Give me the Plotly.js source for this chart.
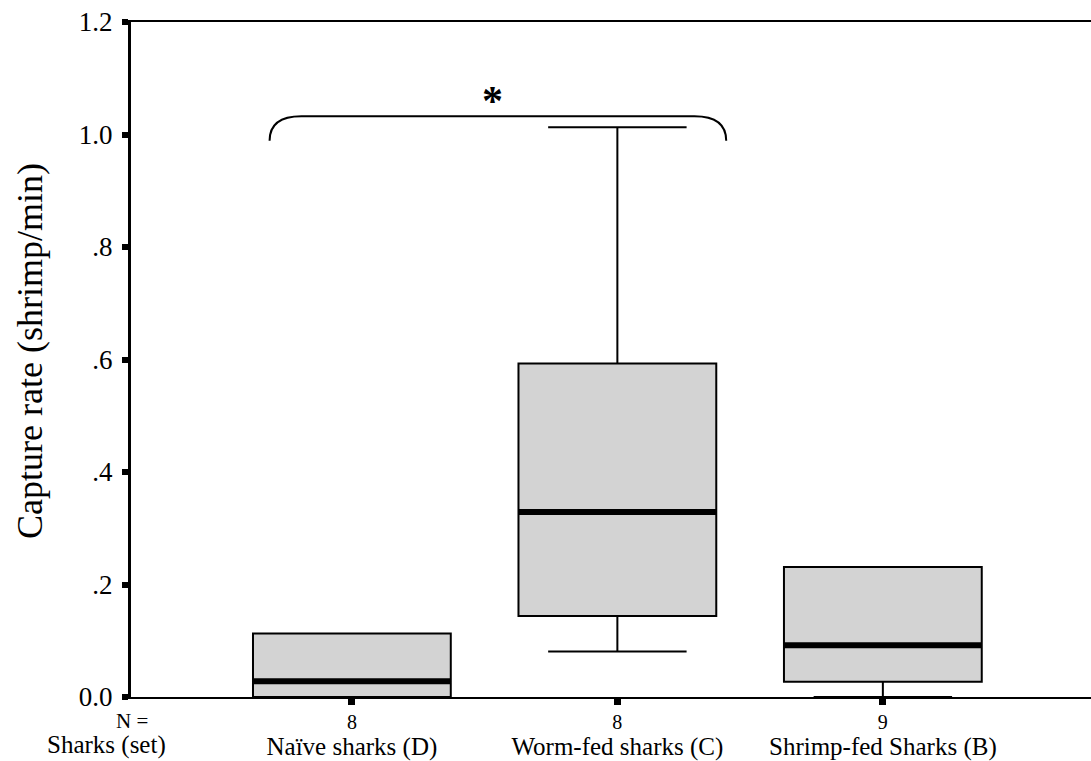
<!DOCTYPE html>
<html>
<head>
<meta charset="utf-8">
<script src="https://cdn.plot.ly/plotly-3.0.1.min.js"></script>
<style>html,body{margin:0;padding:0;background:#fff;}#chart{width:1091px;height:761px;}</style>
</head>
<body>
<div id="chart"></div>
<script>
// ---- data ----
const groups = ['Naïve sharks (D)', 'Worm-fed sharks (C)', 'Shrimp-fed Sharks (B)'];
const nCounts = [8, 8, 9];
const minVals = [0.0, 0.081, 0.0];
const q1Vals = [0.0, 0.144, 0.027];
const medianVals = [0.028, 0.329, 0.092];
const q3Vals = [0.113, 0.593, 0.231];
const maxVals = [0.113, 1.013, 0.231];
const yTickVals = [0, 0.2, 0.4, 0.6, 0.8, 1.0, 1.2];
const yTickText = ['0.0', '.2', '.4', '.6', '.8', '1.0', '1.2'];

const FONT = 'Liberation Serif';
const positions = groups.map((g, i) => i);
const boxWidth = 0.745;

const boxTrace = {
  type: 'box',
  x: positions,
  q1: q1Vals,
  median: medianVals,
  q3: q3Vals,
  lowerfence: minVals,
  upperfence: maxVals,
  width: boxWidth,
  whiskerwidth: 0.7,
  fillcolor: '#d3d3d3',
  line: {color: '#000', width: 2},
  boxpoints: false,
  hoverinfo: 'skip',
  showlegend: false
};

const medX = [], medY = [];
positions.forEach((p, i) => {
  medX.push(p - boxWidth / 2, p + boxWidth / 2, null);
  medY.push(medianVals[i], medianVals[i], null);
});
const medianTrace = {
  type: 'scatter', mode: 'lines', x: medX, y: medY,
  line: {color: '#000', width: 6},
  hoverinfo: 'skip', showlegend: false
};

const xTickText = groups.map((g, i) => nCounts[i] + '<br><span style="font-size:25px">' + g + '</span>');

// significance bracket between group 0 and group 1
const bx0 = positions[0] - 0.31, bx1 = positions[1] + 0.41;
const byBot = 0.989, byTop = 1.0325, dx = 0.12;
const bracketPath = `M ${bx0},${byBot} Q ${bx0},${byTop} ${bx0 + dx},${byTop} L ${bx1 - dx},${byTop} Q ${bx1},${byTop} ${bx1},${byBot}`;

const layout = {
  width: 1091, height: 761,
  margin: {l: 131, r: 0, t: 22, b: 64, pad: 0},
  paper_bgcolor: '#fff', plot_bgcolor: '#fff',
  font: {family: FONT, color: '#000'},
  showlegend: false,
  xaxis: {
    range: [-0.832, 2.784],
    tickvals: positions,
    ticktext: xTickText,
    tickfont: {family: FONT, size: 20, color: '#000'},
    ticks: 'outside', ticklen: 6, tickwidth: 7, tickcolor: '#000',
    ticklabelstandoff: 0,
    showline: true, linecolor: '#000', linewidth: 2, mirror: true,
    showgrid: false, zeroline: false, fixedrange: true
  },
  yaxis: {
    range: [0, 1.2],
    tickvals: yTickVals,
    ticktext: yTickText,
    tickfont: {family: FONT, size: 27, color: '#000'},
    ticks: 'outside', ticklen: 6, tickwidth: 6, tickcolor: '#000',
    ticklabelstandoff: 4,
    showline: true, linecolor: '#000', linewidth: 3, mirror: false,
    showgrid: false, zeroline: false, fixedrange: true
  },
  shapes: [{
    type: 'path', xref: 'x', yref: 'y', path: bracketPath,
    line: {color: '#000', width: 2}
  }],
  annotations: [
    {text: 'Capture rate (shrimp/min)', textangle: -90, xref: 'paper', yref: 'paper',
     x: 0, xshift: -101, xanchor: 'center', y: 0.5126, yanchor: 'middle',
     showarrow: false, font: {family: FONT, size: 36, color: '#000'}},
    {text: '<b>*</b>', xref: 'x', yref: 'y', x: (positions[0] + positions[1]) / 2 + 0.03, y: 1.06,
     xanchor: 'center', yanchor: 'middle', showarrow: false,
     font: {family: FONT, size: 42, color: '#000'}},
    {text: 'N =', xref: 'paper', yref: 'paper', x: 0.001, y: -0.036,
     xanchor: 'center', yanchor: 'middle', showarrow: false,
     font: {family: FONT, size: 21, color: '#000'}},
    {text: 'Sharks (set)', xref: 'paper', yref: 'paper', x: -0.026, y: -0.0715,
     xanchor: 'center', yanchor: 'middle', showarrow: false,
     font: {family: FONT, size: 25, color: '#000'}}
  ]
};

Plotly.newPlot('chart', [boxTrace, medianTrace], layout, {staticPlot: true, displayModeBar: false});
</script>
</body>
</html>
